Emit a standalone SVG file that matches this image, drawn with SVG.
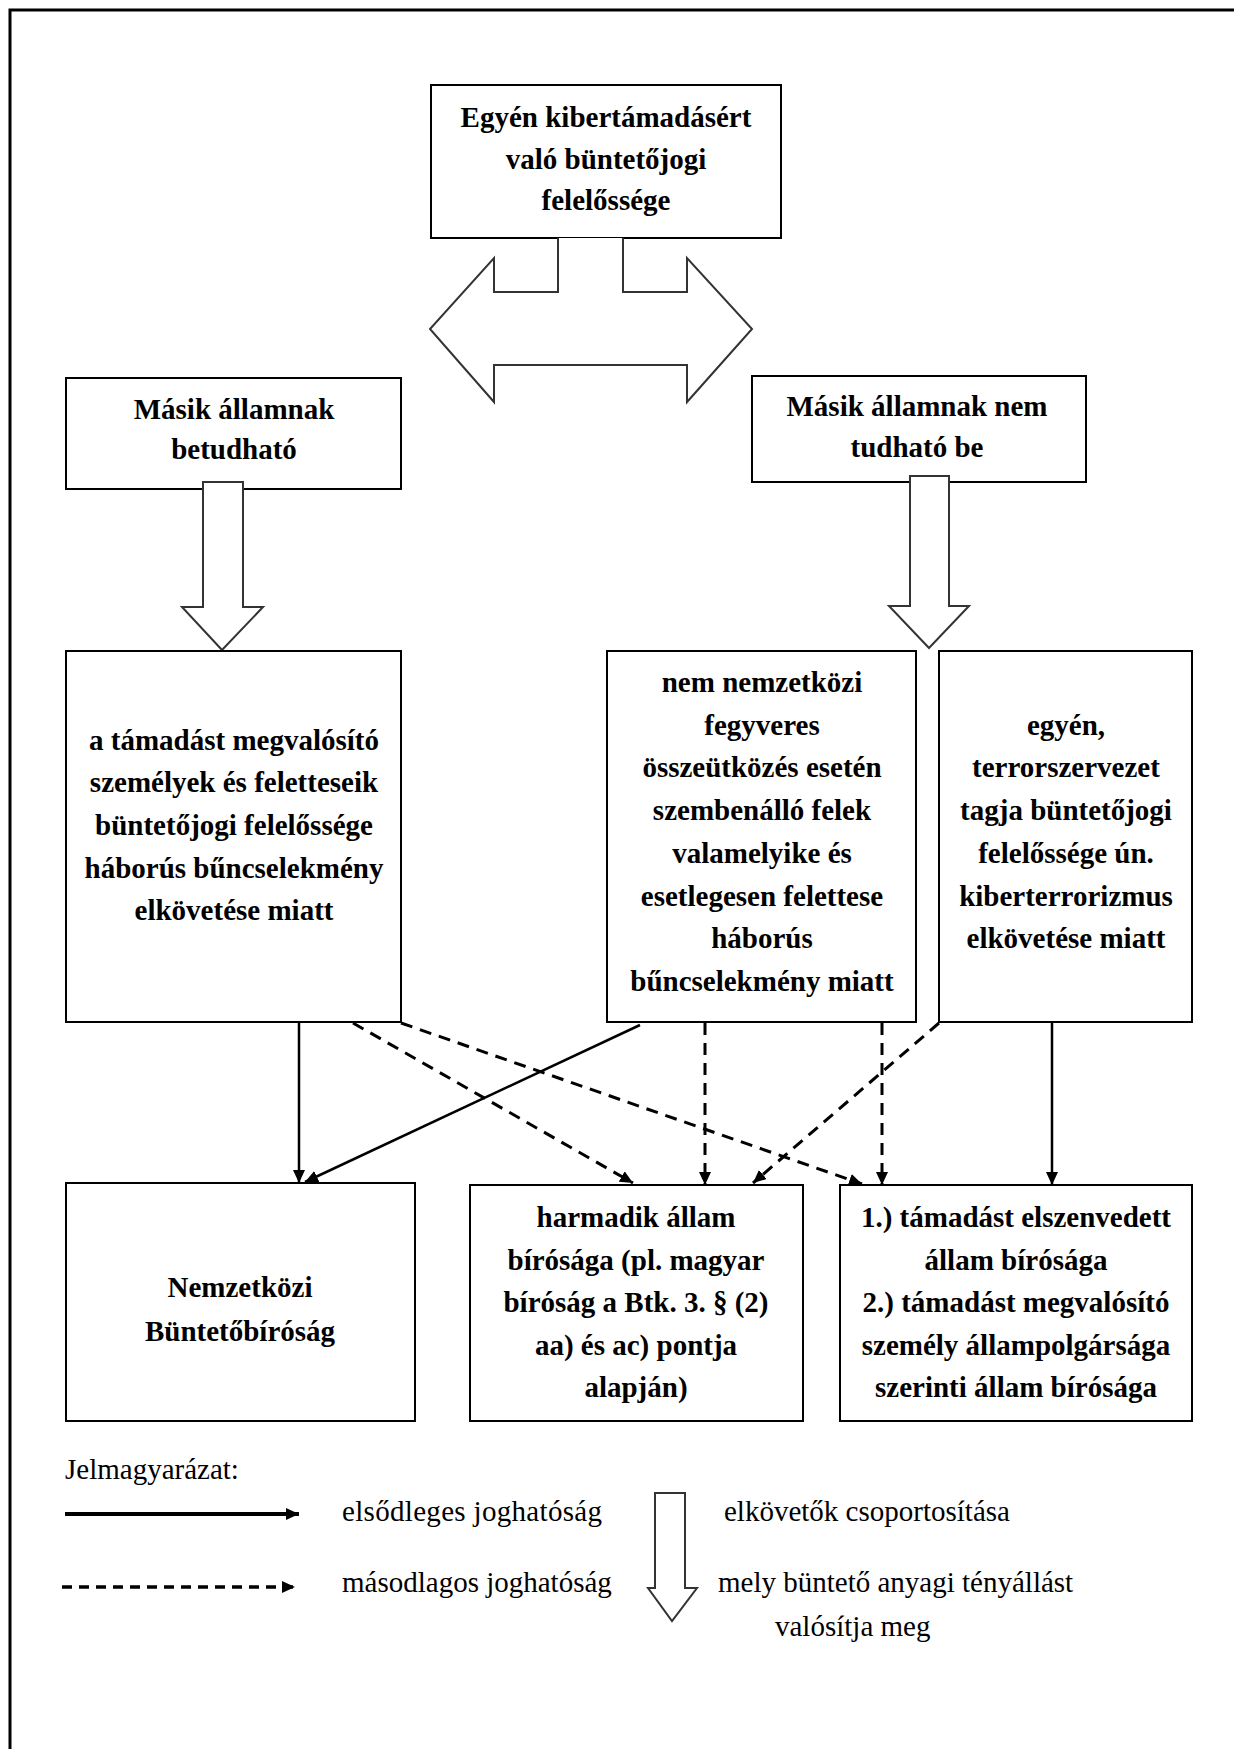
<svg xmlns="http://www.w3.org/2000/svg" width="1234" height="1749" viewBox="0 0 1234 1749">
<style>
.box{fill:#fff;stroke:#000;stroke-width:2}
.big{fill:#fff;stroke:#333;stroke-width:2;stroke-linejoin:miter}
.t{font-family:"Liberation Serif","Times New Roman",serif;font-weight:bold;font-size:29px;fill:#000;text-anchor:middle}
.lg{font-family:"Liberation Serif","Times New Roman",serif;font-size:29px;fill:#000}
.sol{stroke:#000;stroke-width:2.5;fill:none}
.dash{stroke:#000;stroke-width:3;fill:none;stroke-dasharray:12 8}
</style>
<defs>
<marker id="ah" markerUnits="userSpaceOnUse" markerWidth="14" markerHeight="12" refX="13" refY="6" orient="auto">
<path d="M0,0 L13,6 L0,12 Z" fill="#000"/>
</marker>
</defs>
<rect width="1234" height="1749" fill="#fff"/>
<path d="M10,1749 V10 H1234" fill="none" stroke="#000" stroke-width="3"/>

<g id="node-top">
<rect class="box" x="431" y="85" width="350" height="153"/>
<text class="t" x="606" y="127">Egyén kibertámadásért</text>
<text class="t" x="606" y="169">való büntetőjogi</text>
<text class="t" x="606" y="210">felelőssége</text>
</g>
<g id="node-double-arrow">
<path class="big" d="M558,238 V292 H494 V258 L430,329 L494,402 V365 H687 V402 L752,329 L687,258 V292 H623 V238"/>
</g>
<g id="node-betudhato">
<rect class="box" x="66" y="378" width="335" height="111"/>
<text class="t" x="234" y="419">Másik államnak</text>
<text class="t" x="234" y="459">betudható</text>
</g>
<g id="node-nem-tudhato">
<rect class="box" x="752" y="376" width="334" height="106"/>
<text class="t" x="917" y="416">Másik államnak nem</text>
<text class="t" x="917" y="457">tudható be</text>
</g>
<g id="node-arrow-left">
<path class="big" d="M203,482 H243 V607 H263 L222,650 L182,607 H203 Z"/>
</g>
<g id="node-arrow-right">
<path class="big" d="M910,476 H949 V606 H969 L929,648 L889,606 H910 Z"/>
</g>
<g id="node-a">
<rect class="box" x="66" y="651" width="335" height="371"/>
<text class="t" x="234" y="750">a támadást megvalósító</text>
<text class="t" x="234" y="792">személyek és feletteseik</text>
<text class="t" x="234" y="835">büntetőjogi felelőssége</text>
<text class="t" x="234" y="878">háborús bűncselekmény</text>
<text class="t" x="234" y="920">elkövetése miatt</text>
</g>
<g id="node-b">
<rect class="box" x="607" y="651" width="309" height="371"/>
<text class="t" x="762" y="692">nem nemzetközi</text>
<text class="t" x="762" y="735">fegyveres</text>
<text class="t" x="762" y="777">összeütközés esetén</text>
<text class="t" x="762" y="820">szembenálló felek</text>
<text class="t" x="762" y="863">valamelyike és</text>
<text class="t" x="762" y="906">esetlegesen felettese</text>
<text class="t" x="762" y="948">háborús</text>
<text class="t" x="762" y="991">bűncselekmény miatt</text>
</g>
<g id="node-c">
<rect class="box" x="939" y="651" width="253" height="371"/>
<text class="t" x="1066" y="735">egyén,</text>
<text class="t" x="1066" y="777">terrorszervezet</text>
<text class="t" x="1066" y="820">tagja büntetőjogi</text>
<text class="t" x="1066" y="863">felelőssége ún.</text>
<text class="t" x="1066" y="906">kiberterrorizmus</text>
<text class="t" x="1066" y="948">elkövetése miatt</text>
</g>
<g id="node-d">
<rect class="box" x="66" y="1183" width="349" height="238"/>
<text class="t" x="240" y="1297">Nemzetközi</text>
<text class="t" x="240" y="1341">Büntetőbíróság</text>
</g>
<g id="node-e">
<rect class="box" x="470" y="1185" width="333" height="236"/>
<text class="t" x="636" y="1227">harmadik állam</text>
<text class="t" x="636" y="1270">bírósága (pl. magyar</text>
<text class="t" x="636" y="1312">bíróság a Btk. 3. § (2)</text>
<text class="t" x="636" y="1355">aa) és ac) pontja</text>
<text class="t" x="636" y="1397">alapján)</text>
</g>
<g id="node-f">
<rect class="box" x="840" y="1185" width="352" height="236"/>
<text class="t" x="1016" y="1227">1.) támadást elszenvedett</text>
<text class="t" x="1016" y="1270">állam bírósága</text>
<text class="t" x="1016" y="1312">2.) támadást megvalósító</text>
<text class="t" x="1016" y="1355">személy állampolgársága</text>
<text class="t" x="1016" y="1397">szerinti állam bírósága</text>
</g>

<g id="connectors">
<line class="sol" x1="299" y1="1023" x2="299" y2="1183" marker-end="url(#ah)"/>
<line class="sol" x1="640" y1="1025" x2="305" y2="1182" marker-end="url(#ah)" stroke-width="3"/>
<line class="dash" x1="353" y1="1023" x2="633" y2="1183" marker-end="url(#ah)"/>
<line class="dash" x1="401" y1="1023" x2="862" y2="1184" marker-end="url(#ah)"/>
<line class="dash" x1="705" y1="1023" x2="705" y2="1185" marker-end="url(#ah)"/>
<line class="dash" x1="882" y1="1023" x2="882" y2="1185" marker-end="url(#ah)"/>
<line class="dash" x1="939" y1="1023" x2="753" y2="1183" marker-end="url(#ah)"/>
<line class="sol" x1="1052" y1="1023" x2="1052" y2="1185" marker-end="url(#ah)"/>
</g>

<g id="legend">
<text class="lg" x="65" y="1479">Jelmagyarázat:</text>
<line x1="65" y1="1514" x2="299" y2="1514" stroke="#000" stroke-width="4" marker-end="url(#ah)"/>
<text class="lg" x="342" y="1521" textLength="260">elsődleges joghatóság</text>
<line x1="62" y1="1587" x2="295" y2="1587" stroke="#000" stroke-width="3.5" stroke-dasharray="10 7" marker-end="url(#ah)"/>
<text class="lg" x="342" y="1592">másodlagos joghatóság</text>
<path class="big" d="M655,1493 H685 V1588 H697 L672,1621 L648,1588 H655 Z"/>
<text class="lg" x="724" y="1521">elkövetők csoportosítása</text>
<text class="lg" x="718" y="1592">mely büntető anyagi tényállást</text>
<text class="lg" x="775" y="1636">valósítja meg</text>
</g>
</svg>
